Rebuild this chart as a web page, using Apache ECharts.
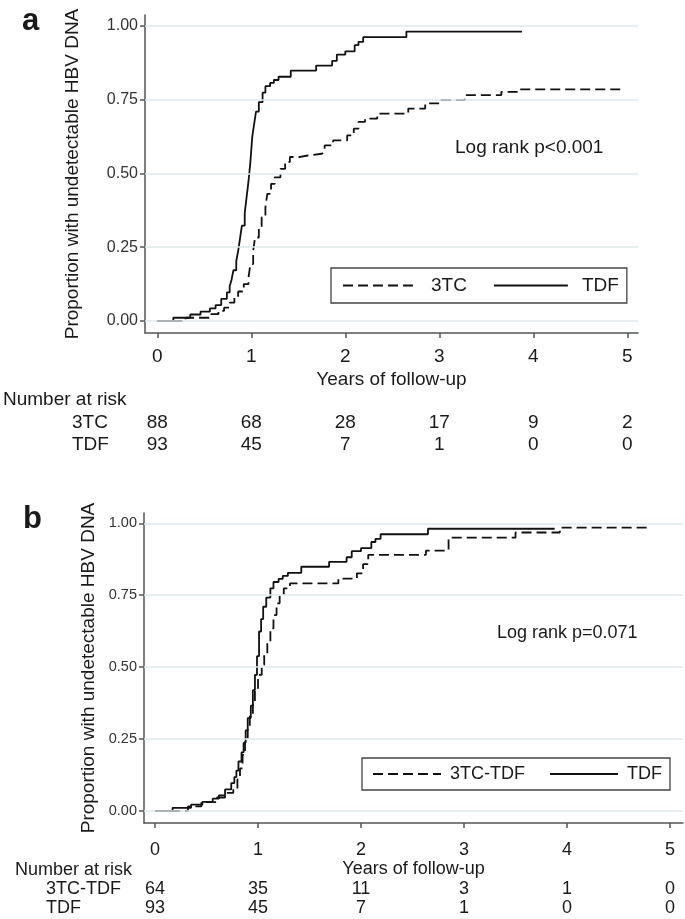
<!DOCTYPE html>
<html>
<head>
<meta charset="utf-8">
<script src="https://cdn.jsdelivr.net/npm/echarts@6/dist/echarts.min.js"></script>
<style>
  html, body { margin: 0; padding: 0; background: #fff; }
  #main { width: 685px; height: 919px; }
</style>
</head>
<body>
<div id="main"></div>
<script>
// tick values
var yearTicks = [0, 1, 2, 3, 4, 5];
var propTicks = [0, 0.25, 0.5, 0.75, 1];

// Kaplan-Meier steps [years, proportion]
var tdfCurve = [[0,0],[0.17,0.011],[0.35,0.022],[0.46,0.032],[0.56,0.043],[0.62,0.054],[0.68,0.075],[0.74,0.097],
  [0.77,0.118],[0.79,0.14],[0.81,0.172],[0.84,0.204],[0.86,0.237],[0.88,0.28],[0.9,0.323],[0.93,0.366],[0.95,0.42],
  [0.97,0.473],[0.99,0.538],[1.01,0.624],[1.03,0.667],[1.05,0.71],[1.08,0.742],[1.12,0.774],[1.15,0.796],[1.2,0.807],
  [1.24,0.817],[1.29,0.828],[1.42,0.849],[1.69,0.866],[1.86,0.882],[1.91,0.903],[2.0,0.914],[2.1,0.935],[2.14,0.946],
  [2.19,0.962],[2.65,0.981],[3.88,0.981]];

var lamCurve = [[0,0],[0.3,0.011],[0.55,0.023],[0.65,0.034],[0.71,0.045],[0.77,0.062],[0.82,0.08],[0.86,0.1],[0.92,0.125],
  [0.97,0.147],[0.99,0.193],[1.02,0.238],[1.04,0.283],[1.08,0.317],[1.11,0.351],[1.15,0.385],[1.17,0.431],[1.21,0.465],
  [1.25,0.487],[1.31,0.516],[1.36,0.539],[1.41,0.556],[1.52,0.561],[1.6,0.567],[1.75,0.573],[1.78,0.595],[1.87,0.612],
  [2.02,0.629],[2.09,0.652],[2.14,0.675],[2.21,0.686],[2.34,0.703],[2.67,0.72],[2.85,0.738],[3.02,0.749],[3.27,0.766],
  [3.66,0.777],[3.84,0.785],[4.96,0.785]];

var lamTdfCurve = [[0,0],[0.32,0.016],[0.45,0.031],[0.6,0.047],[0.68,0.063],[0.76,0.078],[0.8,0.11],[0.825,0.148],[0.85,0.195],
  [0.874,0.241],[0.9,0.287],[0.92,0.334],[0.95,0.38],[0.97,0.426],[1.0,0.473],[1.036,0.508],[1.06,0.542],[1.09,0.589],
  [1.12,0.635],[1.15,0.681],[1.18,0.722],[1.21,0.751],[1.25,0.774],[1.31,0.791],[1.78,0.808],[1.96,0.826],[2.02,0.858],
  [2.07,0.89],[2.63,0.905],[2.85,0.95],[3.5,0.968],[3.93,0.985],[4.79,0.985]];

// number at risk
var riskYears = [0, 1, 2, 3, 4, 5];
var riskA3TC = [88, 68, 28, 17, 9, 2];
var riskATDF = [93, 45, 7, 1, 0, 0];
var riskB3TCTDF = [64, 35, 11, 3, 1, 0];
var riskBTDF = [93, 45, 7, 1, 0, 0];

var FONT = 'Liberation Sans, Arial, sans-serif';
var INK = '#1a1a1a';
var GRIDC = '#dfe8ed';

var chart = echarts.init(document.getElementById('main'));

function xAxisCfg(idx, min, max, fs, margin, gap) {
  return {
    type: 'value', gridIndex: idx, min: min, max: max,
    name: 'Years of follow-up', nameLocation: 'middle', nameGap: gap,
    nameTextStyle: { fontSize: fs, color: INK, fontFamily: FONT },
    axisLine: { show: true, onZero: false, lineStyle: { color: '#555', width: 1.5 } },
    axisTick: { show: true, customValues: yearTicks, length: 5, lineStyle: { color: '#555', width: 1.5 } },
    axisLabel: { customValues: yearTicks, fontSize: fs, color: INK, fontFamily: FONT, margin: margin },
    splitLine: { show: false }
  };
}
function yAxisCfg(idx, min, max, fs, gap) {
  return {
    type: 'value', gridIndex: idx, min: min, max: max,
    name: 'Proportion with undetectable HBV DNA', nameLocation: 'middle', nameRotate: 90, nameGap: gap,
    nameTextStyle: { fontSize: 19, color: INK, fontFamily: FONT },
    axisLine: { show: true, onZero: false, lineStyle: { color: '#555', width: 1.5 } },
    axisTick: { show: true, customValues: propTicks, length: 5, lineStyle: { color: '#555', width: 1.5 } },
    axisLabel: { customValues: propTicks, fontSize: fs, color: '#333', fontFamily: FONT, margin: 7,
      formatter: function (v) { return v.toFixed(2); } },
    splitLine: { show: false }
  };
}
function gridLines() {
  return {
    silent: true, symbol: 'none', animation: false,
    label: { show: false },
    lineStyle: { color: GRIDC, width: 1.5, type: 'solid' },
    data: propTicks.map(function (v) { return { yAxis: v }; })
  };
}
function kmSeries(name, idx, data, dashed, withGrid) {
  var s = {
    name: name, type: 'line', step: 'end', xAxisIndex: idx, yAxisIndex: idx,
    data: data, symbol: 'none', showSymbol: false,
    itemStyle: { color: '#111' },
    lineStyle: { color: '#111', width: 1.8, type: dashed ? [10, 5] : 'solid' }
  };
  if (withGrid) s.markLine = gridLines();
  return s;
}

chart.setOption({
  animation: false,
  backgroundColor: '#fff',
  grid: [
    { left: 145, top: 15, width: 493, height: 318 },
    { left: 144, top: 513, width: 539, height: 310 }
  ],
  xAxis: [
    xAxisCfg(0, -0.131, 5.114, 19, 14, 37),
    xAxisCfg(1, -0.107, 5.126, 18, 18, 30)
  ],
  yAxis: [
    yAxisCfg(0, -0.0407, 1.0373, 16, 63),
    yAxisCfg(1, -0.0417, 1.0358, 14.5, 45)
  ],
  legend: [
    {
      data: ['3TC', 'TDF'], left: 331, top: 268, orient: 'horizontal', selectedMode: false,
      itemWidth: 74, itemHeight: 14, itemGap: 26, padding: [8, 8, 8, 11],
      borderColor: '#444', borderWidth: 1.3,
      itemStyle: { opacity: 0 },
      textStyle: { fontSize: 19, color: INK, fontFamily: FONT, padding: [0, 0, 0, 9] }
    },
    {
      data: ['3TC-TDF', 'TDF'], left: 362, top: 758, orient: 'horizontal', selectedMode: false,
      itemWidth: 68, itemHeight: 14, itemGap: 24, padding: [7, 8, 7, 10],
      borderColor: '#444', borderWidth: 1.3,
      itemStyle: { opacity: 0 },
      textStyle: { fontSize: 18, color: INK, fontFamily: FONT, padding: [0, 0, 0, 4] }
    }
  ],
  series: [
    kmSeries('3TC', 0, lamCurve, true, true),
    kmSeries('TDF', 0, tdfCurve, false, false),
    kmSeries('3TC-TDF', 1, lamTdfCurve, true, true),
    kmSeries('TDF', 1, tdfCurve, false, false)
  ]
});

// texts: panel letters, log rank notes, number-at-risk table
var g = [];
function txt(x, y, s, fs, opts) {
  opts = opts || {};
  g.push({
    type: 'text', x: x, y: y, silent: true,
    style: {
      text: s, fill: INK, font: (opts.bold ? 'bold ' : '') + fs + 'px ' + FONT,
      align: opts.align || 'left', verticalAlign: 'middle'
    }
  });
}
txt(22, 21.5, 'a', 31, { bold: true });
txt(23, 519.5, 'b', 31, { bold: true });
txt(455, 148, 'Log rank p<0.001', 19);
txt(497, 633, 'Log rank p=0.071', 18);

txt(3, 400, 'Number at risk', 19);
txt(72, 423, '3TC', 19);
txt(72, 445, 'TDF', 19);
txt(15, 870, 'Number at risk', 18);
txt(46, 889, '3TC-TDF', 18);
txt(46, 908, 'TDF', 18);

riskYears.forEach(function (t, i) {
  var xa = chart.convertToPixel({ gridIndex: 0 }, [t, 0])[0];
  var xb = chart.convertToPixel({ gridIndex: 1 }, [t, 0])[0];
  txt(xa, 423, String(riskA3TC[i]), 19, { align: 'center' });
  txt(xa, 445, String(riskATDF[i]), 19, { align: 'center' });
  txt(xb, 889, String(riskB3TCTDF[i]), 18, { align: 'center' });
  txt(xb, 908, String(riskBTDF[i]), 18, { align: 'center' });
});

chart.setOption({ graphic: g });
</script>
</body>
</html>
